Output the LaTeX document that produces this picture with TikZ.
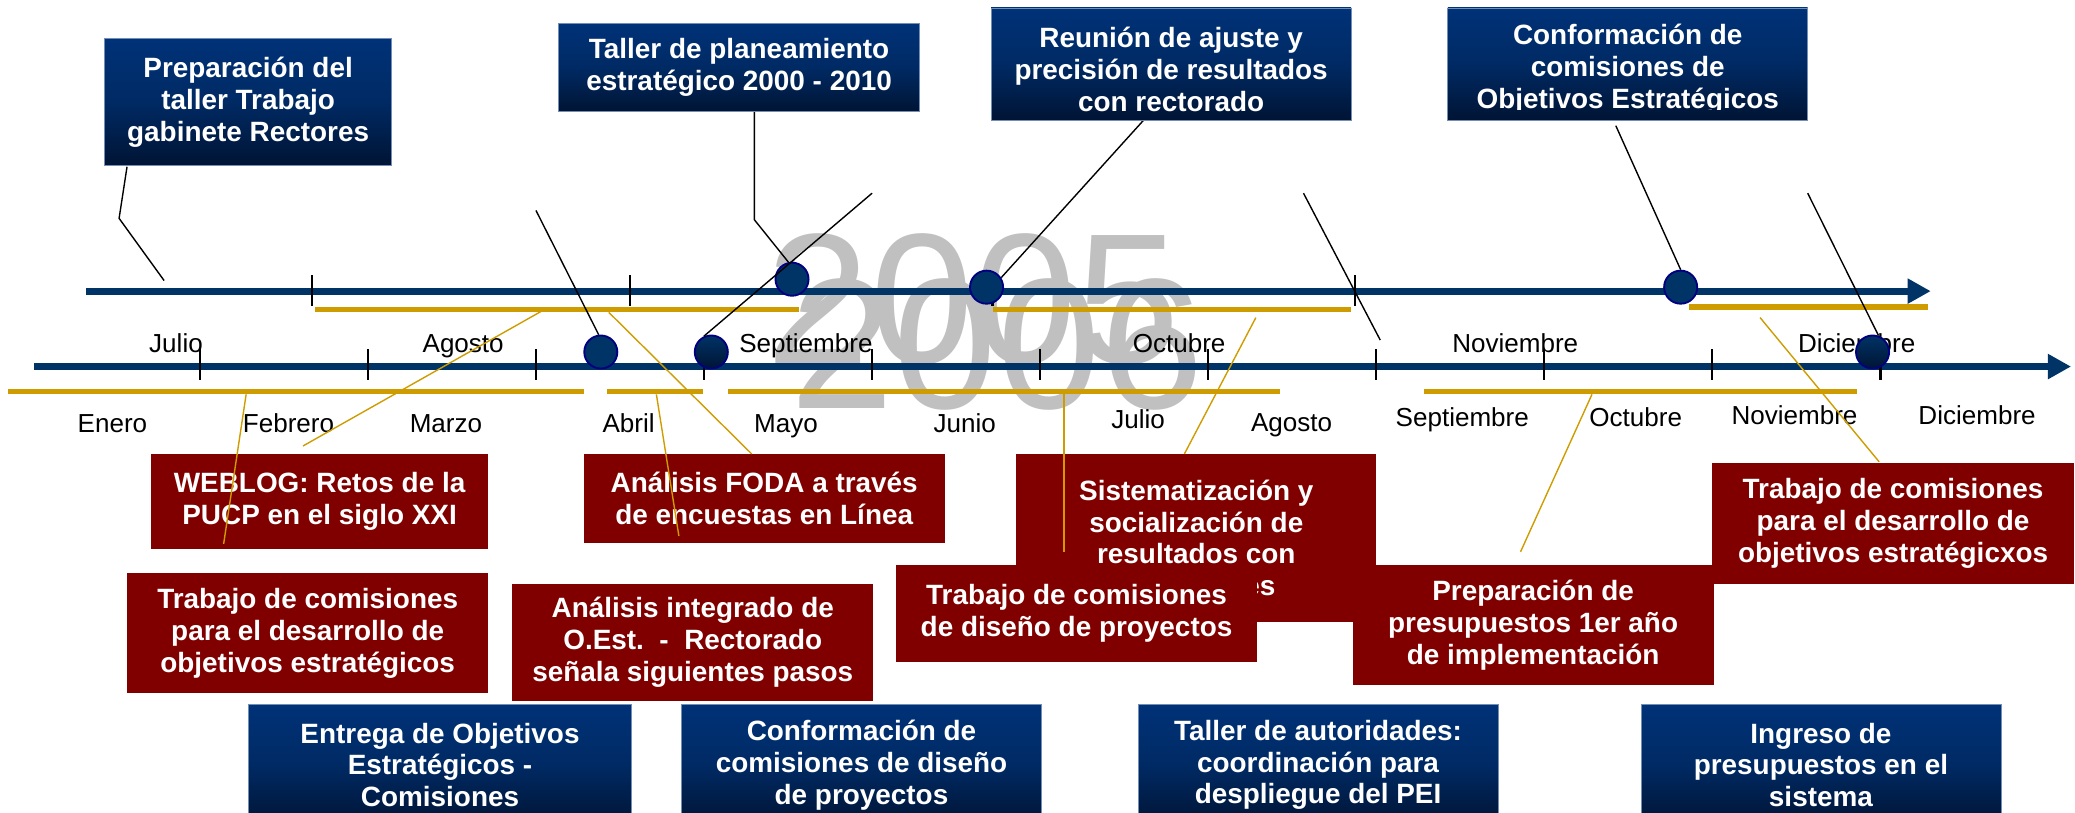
\documentclass[tikz,border=0pt]{standalone}
\usepackage{fontspec}
\setmainfont{Liberation Sans}
\usetikzlibrary{arrows.meta}
\definecolor{axisblue}{RGB}{0,51,102}
\definecolor{dotline}{RGB}{0,0,128}
\definecolor{bluetop}{RGB}{0,50,120}
\definecolor{bluemid}{RGB}{0,42,100}
\definecolor{bluebot}{RGB}{0,20,52}
\definecolor{maroon}{RGB}{128,0,0}
\definecolor{goldbar}{RGB}{207,156,0}
\definecolor{yeargray}{RGB}{192,192,192}

\begin{document}
\begin{tikzpicture}[x=0.02cm,y=-0.02cm,
  every node/.style={font=\fontsize{11.2}{13}\selectfont},
  eje/.style={axisblue,line width=3.1pt,-{Triangle[length=0.35cm,width=0.36cm]}},
  marca/.style={line width=0.9pt},
  franja/.style={goldbar,line width=2.4pt},
  guia/.style={line width=0.6pt},
  guiaoro/.style={goldbar,line width=0.6pt},
  punto/.style={circle,fill=axisblue,draw=dotline,line width=0.8pt,minimum size=0.5cm,inner sep=0pt},
  puntobajo/.style={punto,top color=axisblue,bottom color=bluebot},
  mes/.style={anchor=base,inner sep=0pt},
  anio/.style={text=yeargray,font=\fontsize{80}{80}\selectfont,anchor=base west,inner sep=0pt},
  sz/.style 2 args={minimum width=#1cm,minimum height=#2cm},
  caja/.style={align=center,inner sep=0pt,text=white,font=\fontsize{12}{13.7}\selectfont\bfseries},
  hito/.style={caja,top color=bluetop,bottom color=bluebot,middle color=bluemid,draw=bluetop!55!white,line width=0.3pt},
  tarea/.style={caja,fill=maroon}]
\useasboundingbox (0,0) rectangle (1568,614);
\clip (0,0) rectangle (1568,614);

\node[anio] (y05) at (579,275) {2005};
\node[anio] (y06) at (597,308.5) {2006};

\draw[franja] (238,234) -- (604,234);
\draw[franja] (750,234) -- (1021,234);
\draw[franja] (1276,232) -- (1457,232);
\draw[franja] (6,296) -- (441,296);
\draw[franja] (459,296) -- (531,296);
\draw[franja] (550,296) -- (967,296);
\draw[franja] (1076,296) -- (1403,296);
\draw[eje] (65,220) -- (1459,220);
\draw[eje] (26,277) -- (1565,277);
\foreach \x in {236,476,750,1024} \draw[marca] (\x,208) -- (\x,231);
\foreach \x in {151,278,...,1421} \draw[marca] (\x,264) -- (\x,287);

\foreach \m/\x in {Julio/133,Agosto/350,Septiembre/609,Octubre/891,Noviembre/1145,Diciembre/1403}
  \node[mes] (a-\m) at (\x,266) {\m};
\foreach \m/\x/\y in {Enero/85/327,Febrero/218/327,Marzo/337/327,Abril/475/327,Mayo/594/327,Junio/729/327,Julio/860/323.5,Agosto/976/326,Septiembre/1105/322,Octubre/1236/322,Noviembre/1356/321,Diciembre/1494/321}
  \node[mes] (b-\m) at (\x,\y) {\m};

\node[punto] (T1) at (598.5,211) {};
\node[punto] (T2) at (745.5,217) {};
\node[punto] (T3) at (1270,217) {};
\node[punto] (L1) at (454,266) {};
\node[puntobajo] (L2) at (537.5,266) {};
\node[puntobajo] (L3) at (1415,266) {};

\coordinate (p1) at (96,126);
\coordinate (p2) at (90,165);
\coordinate (p3) at (124,212);
\draw[guia] (p1) -- (p2) -- (p3);
\coordinate (q1) at (405,159);
\draw[guia] (q1) -- (L1.97);
\coordinate (r1) at (570,84);
\coordinate (r2) at (570,166);
\draw[guia] (r1) -- (r2) -- (T1.102);
\coordinate (s1) at (659,146);
\draw[guia] (s1) -- (L2.115);
\coordinate (u1) at (864,91);
\draw[guia] (u1) -- (T2.33);
\coordinate (v1) at (985,146);
\coordinate (v2) at (1043,257);
\draw[guia] (v1) -- (v2);
\coordinate (w1) at (1221,95);
\draw[guia] (w1) -- (T3.north);
\coordinate (z1) at (1366,146);
\draw[guia] (z1) -- (L3.70);

\node[hito,sz={4.34}{1.92}] (B1) at (187.5,77) {Preparación del\\taller Trabajo\\gabinete Rectores};
\node[hito,sz={5.46}{1.32}] (B2) at (558.5,51) {Taller de planeamiento\\estratégico 2000 - 2010};
\node[hito,sz={5.44}{1.70}] (B3) at (885,48.5) {};
\node[caja] (B3t) at (885,52.5) {Reunión de ajuste y\\precisión de resultados\\con rectorado};
\node[hito,sz={5.44}{1.70}] (B4) at (1230,48.5) {};
\begin{scope}
  \clip (1094,6) rectangle (1366,83);
  \node[caja] (B4t) at (1230,52.5) {Conformación de\\comisiones de\\Objetivos Estratégicos};
\end{scope}
\node[hito,sz={5.78}{1.84}] (B5) at (332.5,578) {Entrega de Objetivos\\Estratégicos -\\Comisiones};
\node[hito,sz={5.44}{1.84}] (B6) at (651,578) {Conformación de\\comisiones de diseño\\de proyectos};
\node[hito,sz={5.44}{1.84}] (B7) at (996,578) {Taller de autoridades:\\coordinación para\\despliegue del PEI};
\node[hito,sz={5.44}{1.84}] (B8) at (1376,578) {Ingreso de\\presupuestos en el\\sistema};

\node[tarea,sz={5.10}{1.44}] (R1) at (241.5,379) {WEBLOG: Retos de la\\PUCP en el siglo XXI};
\node[tarea,sz={5.46}{1.82}] (R2) at (232.5,478.5) {Trabajo de comisiones\\para el desarrollo de\\objetivos estratégicos};
\node[tarea,sz={5.46}{1.34}] (R3) at (577.5,376.5) {Análisis FODA a través\\de encuestas en Línea};
\node[tarea,sz={5.46}{1.78}] (R4) at (523.5,485.5) {Análisis integrado de\\O.Est.\ \ -\ \ Rectorado\\señala siguientes pasos};
\node[tarea,sz={5.44}{2.54}] (R5) at (904,406.5) {Sistematización y\\socialización de\\resultados con\\autoridades};
\node[tarea,sz={5.46}{1.46}] (R6) at (813.5,463.5) {Trabajo de comisiones\\de diseño de proyectos};
\node[tarea,sz={5.46}{1.82}] (R7) at (1158.5,472.5) {Preparación de\\presupuestos 1er año\\de implementación};
\node[tarea,sz={5.46}{1.82}] (R8) at (1430.5,395.5) {Trabajo de comisiones\\para el desarrollo de\\objetivos estratégicxos};

\foreach \n/\xa/\ya/\xb/\yb in {a/413/233/229/337,b/186/298/169/411,c/460/236/568/343,d/496/298/513/405,e/804/298/804/417,f/949/240/895/343,g/1203/298/1149/417,h/1330/240/1420/349} {
  \coordinate (ga\n) at (\xa,\ya);
  \coordinate (gb\n) at (\xb,\yb);
  \draw[guiaoro] (ga\n) -- (gb\n);
}
\end{tikzpicture}
\end{document}
